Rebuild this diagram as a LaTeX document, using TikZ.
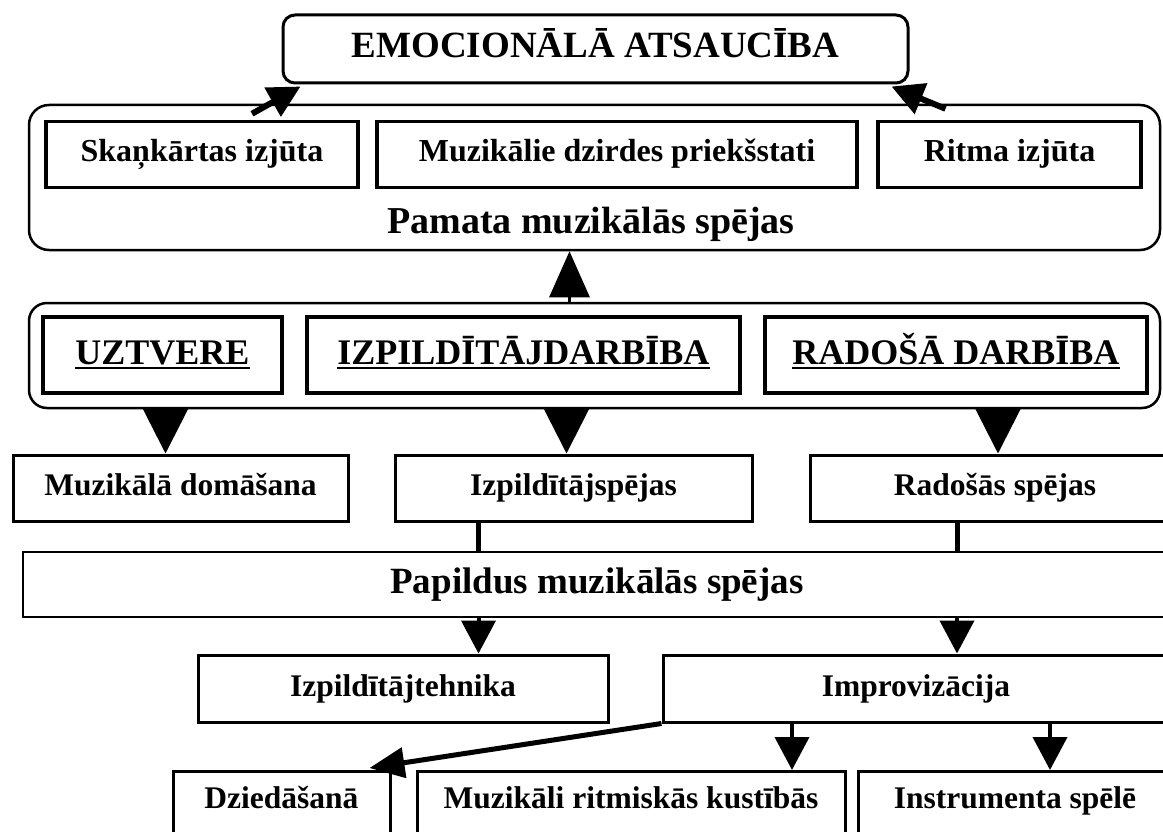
\documentclass[tikz,border=0pt]{standalone}
\usepackage{fontspec}
\setmainfont{Liberation Serif}
\usetikzlibrary{arrows.meta}
\newcommand{\ulbox}[1]{\setbox0\hbox{#1}\rlap{\vrule height -3pt depth 5pt width \wd0}\box0}

\begin{document}
\begin{tikzpicture}[
    x=1pt, y=-1pt,
    box/.style={draw, line width=3pt, inner sep=0pt, minimum height=66pt,
      font=\fontsize{31.5}{38}\selectfont\bfseries, text height=22pt, text depth=7pt},
    headbox/.style={box, line width=3.5pt, minimum height=76pt,
      font=\fontsize{36}{42}\selectfont\bfseries, text height=26pt, text depth=8pt},
    lowbox/.style={box, anchor=north, text height=37pt, text depth=70pt},
    frame/.style={draw, line width=2.5pt, rounded corners=20pt, inner sep=0pt},
    title/.style={font=\fontsize{38}{44}\selectfont\bfseries, inner sep=0pt,
      text height=27pt, text depth=10pt},
    link/.style={line width=5pt},
    fat/.style={line width=6pt, -{Triangle[length=32pt,width=32pt]}},
    bigup/.style={line width=3pt, -{Triangle[length=46pt,width=40pt]}},
    bigdown/.style={line width=3pt, -{Triangle[length=45pt,width=45pt]}},
    sdown/.style={line width=4pt, -{Triangle[length=33pt,width=34pt]}},
    slant/.style={line width=5pt, -{Triangle[length=35pt,width=30pt]}}
  ]
  \useasboundingbox (0,0) rectangle (1163,832);
  \clip (0,0) rectangle (1163,832);

  % top
  \node[box, rounded corners=12pt, minimum width=625pt, minimum height=68pt,
    font=\fontsize{37}{44}\selectfont\bfseries, text height=27pt, text depth=9pt]
    (emo) at (595.5,49) {EMOCIONĀLĀ ATSAUCĪBA};

  % pamata spejas
  \node[frame, minimum width=1131pt, minimum height=145pt] (pamata) at (594.5,177.5) {};
  \node[box, line width=3.5pt, minimum width=312pt, font=\fontsize{32}{38}\selectfont\bfseries]
    (skan) at (202,154.5) {Skaņkārtas izjūta};
  \node[box, line width=3.5pt, minimum width=480pt, font=\fontsize{32}{38}\selectfont\bfseries]
    (dzird) at (617,154.5) {Muzikālie dzirdes priekšstati};
  \node[box, line width=3.5pt, minimum width=263pt, font=\fontsize{32}{38}\selectfont\bfseries]
    (ritma) at (1009.5,154.5) {Ritma izjūta};
  \node[title] (pamtxt) at (591,225) {Pamata muzikālās spējas};

  \draw[fat] ([xshift=50pt,yshift=6pt]skan.north) -- ([xshift=19pt,yshift=-2pt]emo.south west);
  \draw[fat] ([xshift=-64pt,yshift=11pt]ritma.north) -- ([xshift=-18pt,yshift=-2pt]emo.south east);

  % darbibas
  \node[frame, rounded corners=18pt, minimum width=1131pt, minimum height=105pt] (darb) at (594.5,355.5) {};
  \node[headbox, minimum width=239pt] (uztv) at (162.5,355) {\ulbox{UZTVERE}};
  \node[headbox, minimum width=433pt] (izpd) at (523.5,355) {\ulbox{IZPILDĪTĀJDARBĪBA}};
  \node[headbox, minimum width=382pt] (rado) at (956,355) {\ulbox{RADOŠĀ DARBĪBA}};

  \coordinate (tU) at ([xshift=-25pt]pamata.south);
  \draw[bigup] (darb.north -| tU) -- (tU);

  % spejas
  \node[box, minimum width=335pt] (dom) at (180.5,488) {Muzikālā domāšana};
  \node[box, minimum width=357pt] (izpsp) at (573.5,488) {Izpildītājspējas};
  \node[box, minimum width=370pt] (radsp) at (995,488) {Radošās spējas};

  \coordinate (tA) at ([xshift=-15pt]dom.north);
  \coordinate (tB) at ([xshift=-7pt]izpsp.north);
  \coordinate (tC) at ([xshift=3pt]radsp.north);
  \draw[bigdown] (darb.south -| tA) -- (tA);
  \draw[bigdown] (darb.south -| tB) -- (tB);
  \draw[bigdown] (darb.south -| tC) -- (tC);

  % papildus
  \node[box, line width=2pt, minimum width=1148pt, minimum height=65pt,
    font=\fontsize{37}{44}\selectfont\bfseries, text height=26pt, text depth=9pt]
    (papild) at (597,584.5) {Papildus muzikālās spējas};

  \draw[link] ([xshift=-95pt]izpsp.south) coordinate (l1) -- (l1 |- papild.north);
  \draw[link] ([xshift=-38pt]radsp.south) coordinate (l2) -- (l2 |- papild.north);

  \node[box, minimum width=410pt, minimum height=67pt] (tehn) at (403,688.5) {Izpildītājtehnika};
  \node[box, minimum width=506pt, minimum height=67pt] (impro) at (916,688.5) {Improvizācija};

  \draw[sdown] (l1 |- papild.south) -- (l1 |- tehn.north);
  \draw[sdown] (l2 |- papild.south) -- (l2 |- impro.north);

  % bottom row
  \node[lowbox, minimum width=217pt] (dzied) at (281.5,770) {Dziedāšanā};
  \node[lowbox, minimum width=428pt] (kust) at (631,770) {Muzikāli ritmiskās kustībās};
  \node[lowbox, minimum width=314pt] (instr) at (1015,770) {Instrumenta spēlē};

  \draw[slant] (impro.south west) -- ([xshift=-22pt,yshift=2pt]dzied.north east);
  \draw[sdown] ([xshift=-124pt]impro.south) coordinate (i1) -- (i1 |- kust.north);
  \draw[sdown] ([xshift=134pt]impro.south) coordinate (i2) -- (i2 |- instr.north);
\end{tikzpicture}
\end{document}
